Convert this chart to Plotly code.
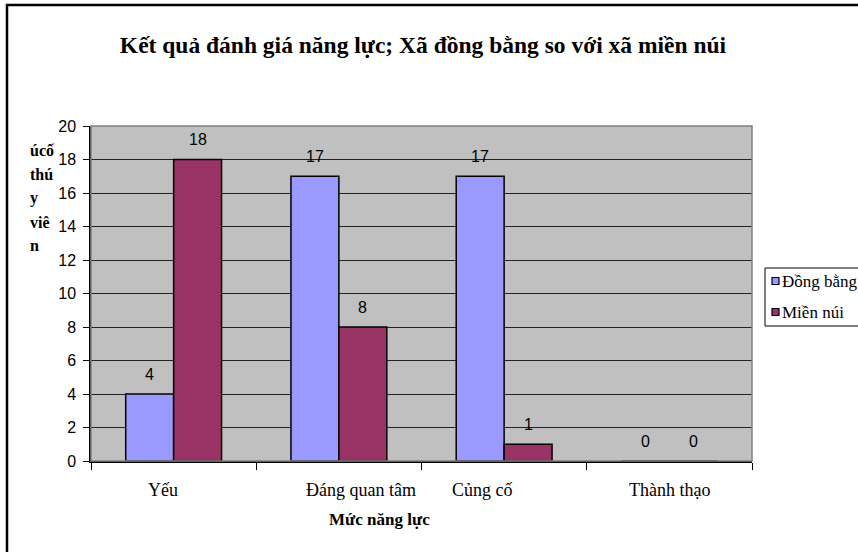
import plotly.graph_objects as go

# Chart data
categories = ["Yếu", "Đáng quan tâm", "Củng cố", "Thành thạo"]
series_names = ["Đồng bằng", "Miền núi"]
dong_bang = [4, 17, 17, 0]
mien_nui = [18, 8, 1, 0]
series_colors = ["#9999FF", "#993366"]
y_ticks = [0, 2, 4, 6, 8, 10, 12, 14, 16, 18, 20]
y_title_lines = ["úcố", "thú", "y", "viê", "n"]
# small horizontal nudges of each category label (in category units)
label_nudge = [-0.067, 0.133, -0.133, 0.0]

W, H = 858, 552
L, R, T, B = 91, 106, 126, 91
pw, ph = W - L - R, H - T - B

def px_x(p):
    return (p - L) / pw

def px_y(p):
    return 1 - (p - T) / ph

serif = "Liberation Serif, Times New Roman, serif"
sans = "Liberation Sans, Arial, sans-serif"

bargap = 0.42
half = (1 - bargap) / 4  # centre offset of each bar in a group

fig = go.Figure()
xs = list(range(len(categories)))
for name, vals, col in zip(series_names, [dong_bang, mien_nui], series_colors):
    fig.add_trace(go.Bar(
        x=xs, y=vals, name=name,
        marker=dict(color=col, line=dict(color="black", width=1.5)),
        showlegend=False,
    ))

annotations = []
# value labels above bars
for k, vals in enumerate([dong_bang, mien_nui]):
    off = -half if k == 0 else half
    for i, v in enumerate(vals):
        annotations.append(dict(
            x=i + off, y=v, xref="x", yref="y", text=str(v),
            showarrow=False, yshift=20, yanchor="middle",
            font=dict(family=sans, size=16, color="black"),
        ))

# category labels
for i, c in enumerate(categories):
    annotations.append(dict(
        x=i + label_nudge[i], y=px_y(490), xref="x", yref="paper", text=c,
        showarrow=False, yanchor="middle", xanchor="center",
        font=dict(family=serif, size=18, color="black"),
    ))

# x axis title
annotations.append(dict(
    x=px_x(379), y=px_y(519), xref="paper", yref="paper",
    text="<b>Mức năng lực</b>", showarrow=False, yanchor="middle",
    font=dict(family=serif, size=17, color="black"),
))

# y axis title, one line at a time
for j, line in enumerate(y_title_lines):
    annotations.append(dict(
        x=px_x(28), y=px_y(150 + 24 * j), xref="paper", yref="paper",
        text="<b>" + line + "</b>", showarrow=False,
        xanchor="left", yanchor="middle",
        font=dict(family=serif, size=16, color="black"),
    ))

# legend entries
legend_rows = [281, 312]
for name, col, yy in zip(series_names, series_colors, legend_rows):
    annotations.append(dict(
        x=px_x(780), y=px_y(yy), xref="paper", yref="paper",
        text=name, showarrow=False, xanchor="left", yanchor="middle",
        font=dict(family=serif, size=17, color="black"),
    ))

shapes = []
# outer chart border
shapes.append(dict(type="rect", xref="paper", yref="paper",
                   x0=px_x(7), x1=px_x(900), y0=px_y(600), y1=px_y(5),
                   line=dict(color="black", width=2.5), fillcolor="rgba(0,0,0,0)"))
# plot area border (top/right)
shapes.append(dict(type="rect", xref="paper", yref="paper",
                   x0=0, x1=1, y0=0, y1=1,
                   line=dict(color="#808080", width=1.5), fillcolor="rgba(0,0,0,0)"))
# legend box and swatches
shapes.append(dict(type="rect", xref="paper", yref="paper",
                   x0=px_x(765), x1=px_x(900), y0=px_y(326), y1=px_y(268),
                   line=dict(color="black", width=1), fillcolor="white"))
for col, yy in zip(series_colors, legend_rows):
    shapes.append(dict(type="rect", xref="paper", yref="paper",
                       x0=px_x(772), x1=px_x(779), y0=px_y(yy + 3.5), y1=px_y(yy - 3.5),
                       line=dict(color="black", width=1.2), fillcolor=col))

fig.update_layout(
    width=W, height=H,
    margin=dict(l=L, r=R, t=T, b=B, autoexpand=False),
    paper_bgcolor="white", plot_bgcolor="#C0C0C0",
    barmode="group", bargap=bargap, bargroupgap=0,
    title=dict(
        text="<b>Kết quả đánh giá năng lực; Xã đồng bằng so với xã miền núi</b>",
        x=px_x(423), xref="paper", y=1 - 45 / H, yref="container",
        xanchor="center", yanchor="middle",
        font=dict(family=serif, size=23.5, color="black"),
    ),
    xaxis=dict(
        range=[-0.5, len(categories) - 0.5],
        tickvals=[i + 0.5 for i in range(-1, len(categories))],
        showticklabels=False, ticks="outside", ticklen=7, tickcolor="black",
        showgrid=False, zeroline=False, showline=True, linecolor="black", linewidth=1.5,
    ),
    yaxis=dict(
        range=[0, 20], tickvals=y_ticks, ticks="outside", ticklen=6,
        tickcolor="black", showline=True, linecolor="black", linewidth=1.5,
        showgrid=True, gridcolor="#222222", gridwidth=1, zeroline=False,
        tickfont=dict(family=sans, size=16, color="black"),
        ticklabelstandoff=4,
    ),
    showlegend=False,
    annotations=annotations,
    shapes=shapes,
)

fig.write_html("out.html")
